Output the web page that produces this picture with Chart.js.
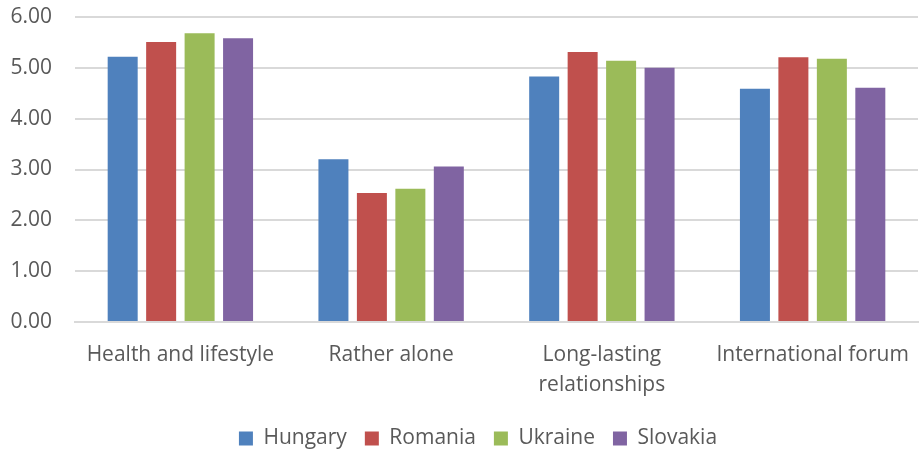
<!DOCTYPE html>
<html><head><meta charset="utf-8">
<script src="https://cdn.jsdelivr.net/npm/chart.js@4/dist/chart.umd.min.js"></script>
<style>html,body{margin:0;padding:0;background:#fff}#wrap{width:920px;height:452px}</style>
</head><body><div id="wrap"><canvas id="c" width="920" height="452"></canvas></div>
<script>
const categories = ["Health and lifestyle", "Rather alone", ["Long-lasting", "relationships"], "International forum"];
const hungary  = [5.22, 3.20, 4.83, 4.59];
const romania  = [5.51, 2.54, 5.31, 5.21];
const ukraine  = [5.68, 2.62, 5.14, 5.18];
const slovakia = [5.58, 3.06, 5.00, 4.61];
const seriesNames = ["Hungary", "Romania", "Ukraine", "Slovakia"];
const colors = ["#4F81BD", "#C0504D", "#9BBB59", "#8064A2"];
const yTicks = [0, 1, 2, 3, 4, 5, 6];

const font = "'Open Sans', 'Liberation Sans', sans-serif";
const data = [hungary, romania, ukraine, slovakia];

const legendShift = {
  id: 'legendShift',
  afterLayout(chart) {
    const l = chart.legend;
    l.left += 15; l.right += 15; l.top += 9; l.bottom += 9;
  }
};

new Chart(document.getElementById('c'), {
  type: 'bar',
  data: {
    labels: categories,
    datasets: data.map((d, i) => ({
      label: seriesNames[i], data: d, backgroundColor: colors[i],
      borderWidth: 0, barPercentage: 0.78, categoryPercentage: 0.73
    }))
  },
  plugins: [legendShift],
  options: {
    responsive: false, animation: false,
    layout: { padding: { top: 0, right: 2, left: 8, bottom: 2 } },
    plugins: {
      tooltip: { enabled: false },
      legend: {
        position: 'bottom',
        labels: { boxWidth: 14, boxHeight: 14, padding: 18, color: '#595959', font: { family: font, size: 21 } }
      }
    },
    scales: {
      x: {
        grid: { display: false },
        border: { color: '#d9d9d9', width: 2 },
        afterFit: ax => { ax.height = 79; },
        ticks: { color: '#595959', padding: 10, maxRotation: 0, autoSkip: false, font: { family: font, size: 21, lineHeight: 1.43 } }
      },
      y: {
        min: 0, max: 6,
        afterBuildTicks: ax => { ax.ticks = yTicks.map(v => ({ value: v })); },
        afterFit: ax => { ax.width = 67; ax.paddingTop = 17; ax.paddingBottom = 12; },
        grid: { color: '#d9d9d9', lineWidth: 2, drawTicks: false },
        border: { display: false },
        ticks: { color: '#595959', padding: 23, callback: v => Number(v).toFixed(2), font: { family: font, size: 21 } }
      }
    }
  }
});
</script></body></html>
